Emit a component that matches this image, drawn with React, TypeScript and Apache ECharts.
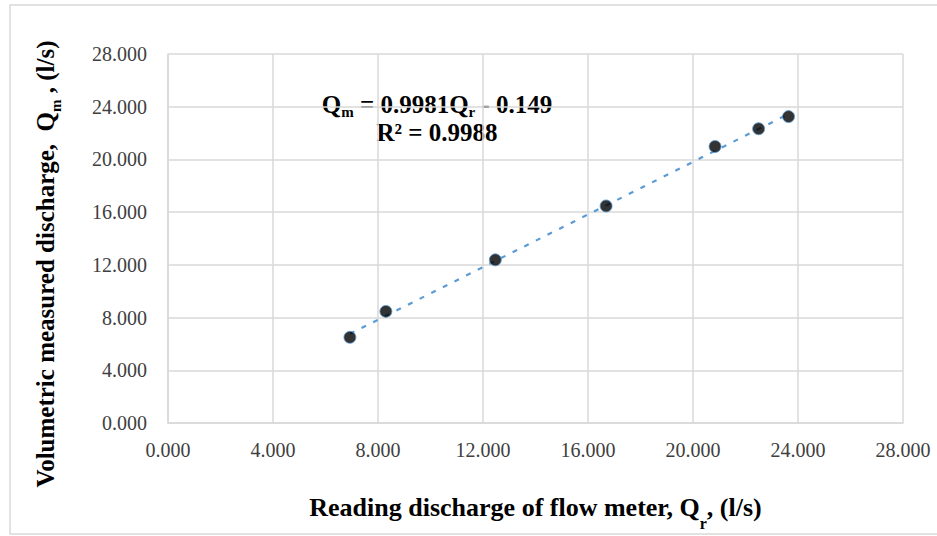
import React, { useEffect, useRef } from "react";
import * as echarts from "echarts";

const readingQr = [6.93, 8.3, 12.47, 16.69, 20.84, 22.5, 23.64];
const measuredQm = [6.5, 8.47, 12.38, 16.47, 20.98, 22.33, 23.25];
const slope = 0.9981;
const intercept = -0.149;
const axisTicks = [0, 4, 8, 12, 16, 20, 24, 28];

const serif = "'Liberation Serif', 'Times New Roman', serif";

export default function App() {
  const ref = useRef<HTMLDivElement>(null);
  useEffect(() => {
    if (!ref.current) return;
    const chart = echarts.init(ref.current, null, { renderer: "svg" });
    const xMin = Math.min(...readingQr);
    const xMax = Math.max(...readingQr);
    const trend = [
      [xMin, slope * xMin + intercept],
      [xMax, slope * xMax + intercept],
    ];
    const points = readingQr.map((x, i) => [x, measuredQm[i]]);
    const axisCommon = {
      type: "value",
      min: axisTicks[0],
      max: axisTicks[axisTicks.length - 1],
      interval: 4,
      axisLine: { show: true, lineStyle: { color: "#d9d9d9", width: 1.5 } },
      axisTick: { show: false },
      splitLine: { show: true, lineStyle: { color: "#d9d9d9", width: 1.5 } },
      axisLabel: {
        fontFamily: serif,
        fontSize: 20,
        color: "#404040",
        formatter: (v: number) => v.toFixed(3),
      },
    };
    chart.setOption({
      animation: false,
      backgroundColor: "#ffffff",
      grid: { left: 168, right: 34, top: 54, bottom: 111 },
      xAxis: {
        ...axisCommon,
        axisLabel: { ...axisCommon.axisLabel, margin: 17 },
        name: "{b|Reading discharge of flow meter, Q}{s|r}{b|, (l/s)}",
        nameLocation: "middle",
        nameGap: 60,
        nameTextStyle: {
          rich: {
            b: { fontFamily: serif, fontWeight: "bold", fontSize: 26, color: "#000", lineHeight: 30 },
            s: { fontFamily: serif, fontWeight: "bold", fontSize: 16, color: "#000", lineHeight: 48, verticalAlign: "bottom" },
          },
        },
      },
      yAxis: {
        ...axisCommon,
        axisLabel: { ...axisCommon.axisLabel, margin: 21 },
      },
      graphic: [
        {
          type: "rect",
          shape: { x: 10, y: 5, width: 940, height: 529 },
          style: { fill: "none", stroke: "#d9d9d9", lineWidth: 1.5 },
          silent: true,
          z: -1,
        },
        {
          type: "text",
          x: 45,
          y: 264,
          rotation: Math.PI / 2,
          style: {
            text: "{b|Volumetric measured discharge,  Q}{s|m}{b| , (l/s)}",
            align: "center",
            verticalAlign: "middle",
            rich: {
              b: { fontFamily: serif, fontWeight: "bold", fontSize: 25, fill: "#000", lineHeight: 28 },
              s: { fontFamily: serif, fontWeight: "bold", fontSize: 15, fill: "#000", lineHeight: 36, verticalAlign: "bottom" },
            },
          },
        },
        {
          type: "text",
          x: 437,
          y: 104,
          style: {
            text: "{b|Q}{s|m}{b| = 0.9981Q}{s|r}{b| - 0.149}",
            align: "center",
            verticalAlign: "middle",
            rich: {
              b: { fontFamily: serif, fontWeight: "bold", fontSize: 25, fill: "#000", lineHeight: 28 },
              s: { fontFamily: serif, fontWeight: "bold", fontSize: 15, fill: "#000", lineHeight: 30, verticalAlign: "bottom" },
            },
          },
        },
        {
          type: "text",
          x: 437,
          y: 132,
          style: {
            text: "R² = 0.9988",
            align: "center",
            verticalAlign: "middle",
            fontFamily: serif,
            fontWeight: "bold",
            fontSize: 25,
            fill: "#000",
          },
        },
      ],
      series: [
        {
          type: "line",
          data: trend,
          symbol: "none",
          lineStyle: { color: "#5b9bd5", width: 2.2, type: [5, 8] },
          z: 2,
        },
        {
          type: "scatter",
          data: points,
          symbol: "circle",
          symbolSize: 12,
          itemStyle: { color: "#000", borderColor: "#5b9bd5", borderWidth: 1 },
          z: 3,
        },
      ],
    });
    return () => chart.dispose();
  }, []);
  return <div ref={ref} style={{ width: 937, height: 536, position: "absolute", left: 0, top: 0 }} />;
}
